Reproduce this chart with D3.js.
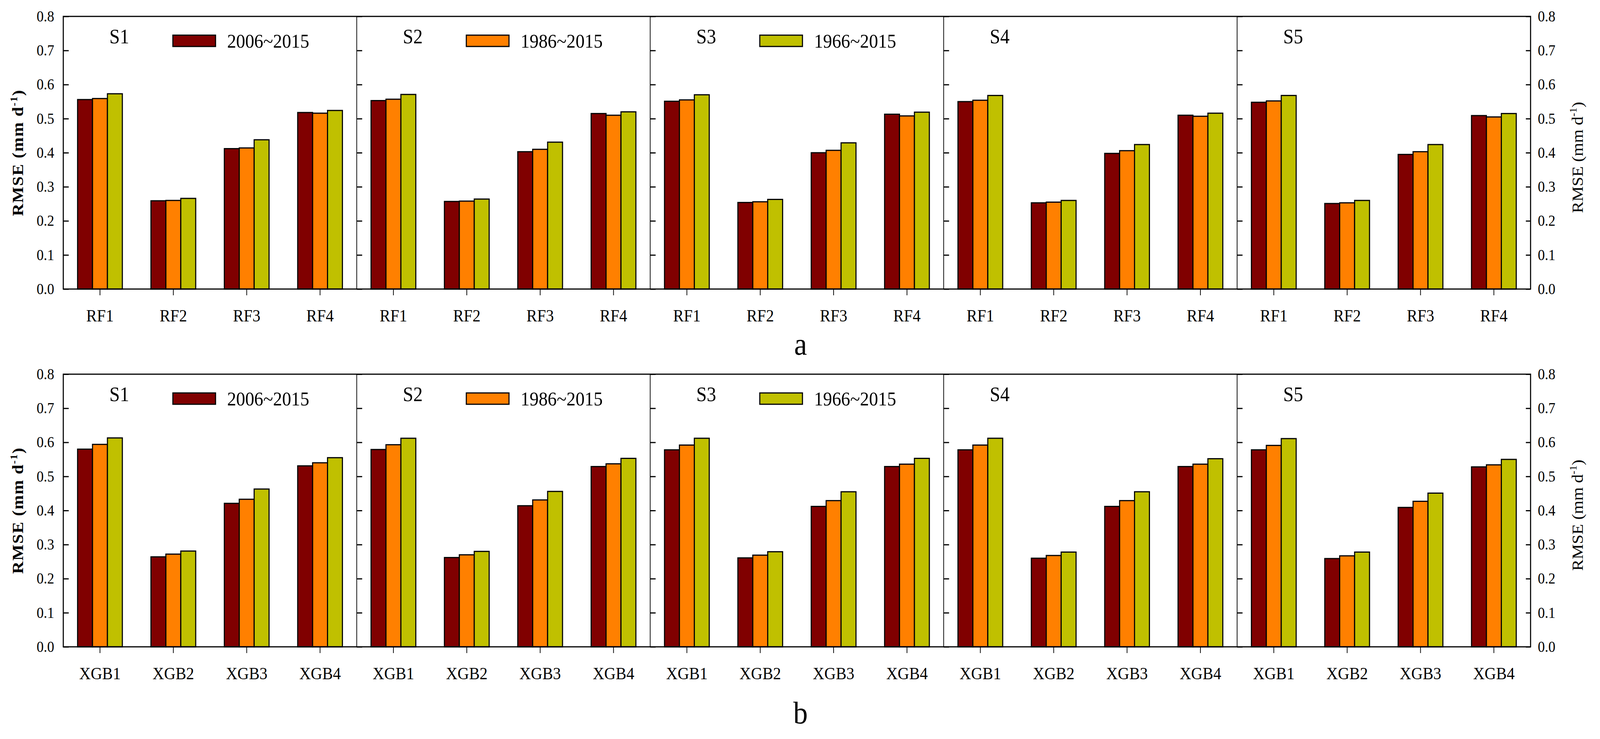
<!DOCTYPE html>
<meta charset="utf-8">
<style>
  html, body { margin: 0; padding: 0; overflow: hidden; background-color: #fff; }
  #chart svg { display: block; }
  text { font-family: "Liberation Serif", "Times New Roman", serif; fill: #000; }
  .bar { stroke: #000; stroke-width: 3; }
  .frame { fill: none; stroke: #000; stroke-width: 3; }
  .divider { stroke: #000; stroke-width: 2; }
</style>
<body>
<script src="https://cdnjs.cloudflare.com/ajax/libs/d3/7.8.5/d3.min.js"></script>
<div id="chart"></div>
<script>

// categories
var sites = ["S1", "S2", "S3", "S4", "S5"];
var rfModels = ["RF1", "RF2", "RF3", "RF4"];
var xgbModels = ["XGB1", "XGB2", "XGB3", "XGB4"];
var periods = ["2006~2015", "1986~2015", "1966~2015"];
var yTicks = [0, 0.1, 0.2, 0.3, 0.4, 0.5, 0.6, 0.7, 0.8];

// RMSE values, one row per site (S1..S5), one column per model
var rf_2006 = [
  [0.556, 0.259, 0.412, 0.518],
  [0.553, 0.257, 0.403, 0.515],
  [0.551, 0.254, 0.400, 0.513],
  [0.550, 0.253, 0.398, 0.510],
  [0.548, 0.251, 0.395, 0.509]
];
var rf_1986 = [
  [0.559, 0.260, 0.414, 0.516],
  [0.557, 0.258, 0.410, 0.510],
  [0.555, 0.256, 0.407, 0.508],
  [0.554, 0.255, 0.406, 0.507],
  [0.552, 0.253, 0.403, 0.505]
];
var rf_1966 = [
  [0.573, 0.266, 0.438, 0.524],
  [0.571, 0.264, 0.431, 0.520],
  [0.570, 0.263, 0.429, 0.519],
  [0.568, 0.260, 0.424, 0.516],
  [0.568, 0.260, 0.424, 0.515]
];
var xgb_2006 = [
  [0.580, 0.264, 0.421, 0.531],
  [0.579, 0.262, 0.414, 0.529],
  [0.578, 0.261, 0.412, 0.529],
  [0.578, 0.260, 0.412, 0.529],
  [0.578, 0.259, 0.409, 0.528]
];
var xgb_1986 = [
  [0.594, 0.272, 0.433, 0.540],
  [0.593, 0.270, 0.431, 0.537],
  [0.592, 0.269, 0.429, 0.536],
  [0.592, 0.268, 0.429, 0.536],
  [0.591, 0.267, 0.427, 0.534]
];
var xgb_1966 = [
  [0.613, 0.281, 0.463, 0.555],
  [0.612, 0.280, 0.456, 0.553],
  [0.612, 0.279, 0.455, 0.553],
  [0.612, 0.278, 0.455, 0.552],
  [0.611, 0.278, 0.451, 0.550]
];

var width = 4424, height = 1892;
var left = 175, right = 4232;
var panelW = (right - left) / sites.length;
var plotH = 698;

var color = d3.scaleOrdinal()
    .domain(periods)
    .range(["#800000", "#ff8000", "#c0c000"]);

// draw in a fixed 4424x1892 coordinate box stretched over the whole window
var svg = d3.select("#chart")
    .append("svg")
    .attr("viewBox", "0 0 " + width + " " + height)
    .attr("preserveAspectRatio", "none")
    .style("width", "100vw")
    .style("height", "100vh");

svg.append("rect").attr("width", width).attr("height", height).attr("fill", "#fff");

var rows = [
  {top: 42, models: rfModels, series: [rf_2006, rf_1986, rf_1966], tag: "a", tagY: 908},
  {top: 958, models: xgbModels, series: [xgb_2006, xgb_1986, xgb_1966], tag: "b", tagY: 1852}
];

rows.forEach(function(row) {
  var g = svg.append("g").attr("transform", "translate(0," + row.top + ")");

  var y = d3.scaleLinear().domain([0, 0.8]).range([plotH, 0]);

  var x0 = d3.scaleBand()
      .domain(row.models)
      .range([0, panelW])
      .paddingInner(0.39)
      .paddingOuter(0.195);

  var x1 = d3.scaleBand()
      .domain(periods)
      .range([0, x0.bandwidth()]);

  sites.forEach(function(site, si) {
    var px = left + si * panelW;
    var pg = g.append("g").attr("transform", "translate(" + px + ",0)");

    // bars
    row.models.forEach(function(m, mi) {
      var vals = periods.map(function(p, pi) { return {period: p, value: row.series[pi][si][mi]}; });
      pg.append("g")
        .attr("transform", "translate(" + x0(m) + ",0)")
        .selectAll("rect")
        .data(vals)
        .enter().append("rect")
          .attr("class", "bar")
          .attr("x", function(d) { return x1(d.period); })
          .attr("y", function(d) { return y(d.value); })
          .attr("width", x1.bandwidth())
          .attr("height", function(d) { return plotH - y(d.value); })
          .style("fill", function(d) { return color(d.period); });
    });

    // inner ticks on the left edge of each panel
    pg.append("g")
      .call(d3.axisRight(y).tickValues(yTicks).tickSize(15).tickFormat(""))
      .call(function(a) {
        a.select(".domain").remove();
        a.selectAll("line").attr("stroke-width", 3);
      });

    // bottom ticks and model labels
    pg.append("g")
      .attr("transform", "translate(0," + plotH + ")")
      .call(d3.axisBottom(x0).tickSize(16).tickPadding(0).tickSizeOuter(0))
      .call(function(a) {
        a.select(".domain").remove();
        a.selectAll("line").attr("stroke-width", 2);
        a.selectAll("text")
          .attr("dy", null)
          .attr("y", 83)
          .style("font-size", "44px")
          .style("font-family", "Liberation Serif");
      });

    if (si > 0) {
      pg.append("line")
        .attr("class", "divider")
        .attr("x1", 0).attr("x2", 0)
        .attr("y1", 0).attr("y2", plotH);
    }

    // site label
    pg.append("text")
      .attr("x", 155)
      .attr("y", 69)
      .attr("text-anchor", "middle")
      .style("font-size", "52px")
      .text(site);

    // legend entry, one period per panel
    if (si < periods.length) {
      pg.append("rect")
        .attr("x", 303)
        .attr("y", 48)
        .attr("width", 118)
        .attr("height", 29)
        .attr("stroke", "#000")
        .attr("stroke-width", 3)
        .style("fill", color(periods[si]));
      pg.append("text")
        .attr("x", 453)
        .attr("y", 80)
        .style("font-size", "50px")
        .text(periods[si]);
    }
  });

  // left axis
  g.append("g")
    .attr("transform", "translate(" + left + ",0)")
    .call(d3.axisLeft(y).tickValues(yTicks).tickSize(0).tickPadding(25).tickFormat(d3.format(".1f")))
    .call(function(a) {
      a.select(".domain").remove();
      a.selectAll("text").style("font-size", "39px").style("font-family", "Liberation Serif");
    });

  // right axis
  g.append("g")
    .attr("transform", "translate(" + right + ",0)")
    .call(d3.axisLeft(y).tickValues(yTicks).tickSize(13).tickFormat(""))
    .call(function(a) {
      a.select(".domain").remove();
      a.selectAll("line").attr("stroke-width", 3);
    });
  g.append("g")
    .attr("transform", "translate(" + right + ",0)")
    .call(d3.axisRight(y).tickValues(yTicks).tickSize(0).tickPadding(20).tickFormat(d3.format(".1f")))
    .call(function(a) {
      a.select(".domain").remove();
      a.selectAll("text").style("font-size", "39px").style("font-family", "Liberation Serif");
    });

  // frame
  g.append("rect")
    .attr("class", "frame")
    .attr("x", left)
    .attr("y", 0)
    .attr("width", right - left)
    .attr("height", plotH);

  // y titles
  var lt = g.append("text")
    .attr("transform", "translate(64," + (plotH / 2) + ") rotate(-90)")
    .attr("text-anchor", "middle")
    .style("font-size", "44px")
    .style("letter-spacing", "2px")
    .style("font-weight", "bold");
  lt.append("tspan").text("RMSE (mm d");
  lt.append("tspan").attr("dy", -17).style("font-size", "27px").text("-1");
  lt.append("tspan").attr("dy", 17).text(")");

  var rt = g.append("text")
    .attr("transform", "translate(4377," + (plotH / 2 + 12) + ") rotate(-90)")
    .attr("text-anchor", "middle")
    .style("font-size", "44px");
  rt.append("tspan").text("RMSE (mm d");
  rt.append("tspan").attr("dy", -18).style("font-size", "28px").text("-1");
  rt.append("tspan").attr("dy", 18).text(")");

  // row tag
  svg.append("text")
    .attr("x", (left + right) / 2 + 10)
    .attr("y", row.tagY)
    .attr("text-anchor", "middle")
    .style("font-size", "80px")
    .text(row.tag);
});

</script>
</body>
</html>
